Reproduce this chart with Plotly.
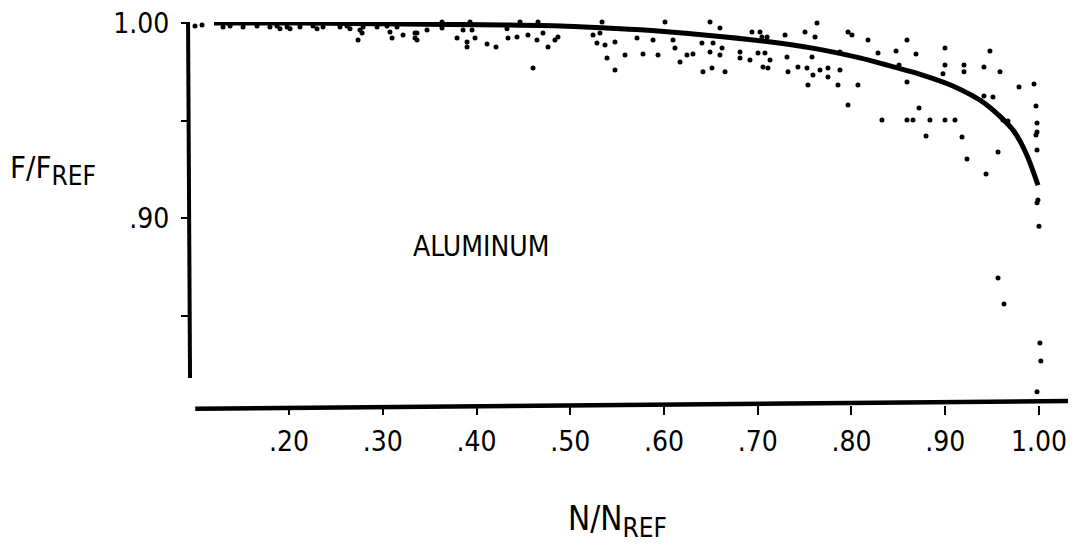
import plotly.graph_objects as go

# Fitted curve F/F_REF vs N/N_REF
curve_x = [0.12, 0.21, 0.32, 0.43, 0.49, 0.535, 0.575, 0.64, 0.71, 0.76, 0.81,
           0.834, 0.875, 0.907, 0.943, 0.973, 0.987, 0.999]
curve_y = [1.000, 1.000, 0.9995, 0.999, 0.9985, 0.9975, 0.9965, 0.994, 0.9905, 0.987, 0.982,
           0.979, 0.9735, 0.968, 0.9586, 0.9448, 0.9325, 0.917]

# Measured points
pts_x = [0.0997, 0.1072,
         0.1296, 0.1371, 0.151, 0.1659, 0.1797, 0.1872, 0.1979, 0.2117, 0.2256, 0.2363, 0.2544, 0.2619,
         0.279, 0.2939, 0.3045, 0.3152,
         0.1584, 0.2032, 0.2512, 0.2672, 0.2832, 0.2917, 0.3291,
         0.1904, 0.2011, 0.2299, 0.2651, 0.2757, 0.2736, 0.2779, 0.3077, 0.3099, 0.3216, 0.3365, 0.3365,
         0.3397, 0.3451, 0.3344, 0.3344, 0.3472, 0.3632, 0.3632, 0.3749, 0.3824, 0.3792, 0.3856, 0.3899,
         0.3899, 0.3931, 0.3952, 0.4005, 0.3984, 0.4112, 0.4219, 0.4208, 0.4325, 0.4325, 0.4336, 0.4432,
         0.4464, 0.4539, 0.4549, 0.4624, 0.4656, 0.4645, 0.4709, 0.4763, 0.4763, 0.4837, 0.4859, 0.4869,
         0.4997, 0.5051, 0.5104, 0.4603,
         0.5243, 0.5285, 0.5317, 0.5371, 0.5392, 0.5339, 0.5477, 0.5477, 0.5509, 0.5584, 0.5584, 0.5723,
         0.5712,
         0.6011, 0.6491, 0.6832, 0.7259, 0.7632, 0.7963, 0.8005,
         0.5883, 0.5776, 0.5936, 0.6096, 0.6117, 0.6171, 0.6245, 0.6309, 0.6405, 0.6416, 0.6491, 0.6512,
         0.6523, 0.6597, 0.6597, 0.6619, 0.6651, 0.6811, 0.6811, 0.6917, 0.6939, 0.7024, 0.7045, 0.7003,
         0.7077, 0.7099, 0.7056, 0.7109, 0.7131, 0.7291, 0.7312, 0.7323, 0.7429, 0.7504, 0.7525, 0.7579,
         0.7589, 0.7611, 0.7536, 0.7664, 0.7749, 0.7749, 0.7856, 0.7877, 0.7877, 0.7963, 0.8069,
         0.8176, 0.8592, 0.8283, 0.8475, 0.8688, 0.8507, 0.8592, 0.8997, 0.8997, 0.8976, 0.9200, 0.9200,
         0.9413, 0.9477, 0.9584, 0.8325, 0.8592, 0.8656, 0.8837, 0.8997, 0.9104, 0.8795, 0.8720, 0.9179,
         0.9232, 0.9413, 0.9509, 0.9616, 0.9669, 0.9563, 0.9435, 0.9787, 0.9947, 0.9968, 0.9979, 0.9979,
         0.9968, 0.9979, 0.9979,
         0.9989, 1.0, 0.9563, 0.9627, 1.001, 1.002, 0.9979]
pts_y = [0.9985, 0.999,
         0.998, 0.9985, 0.998, 0.9985, 0.998, 0.9985, 0.998, 0.998, 0.9985, 0.998, 0.998, 0.9985,
         0.998, 0.998, 0.9985, 0.998,
         1.0026, 1.0026, 1.0026, 1.0026, 1.0026, 1.0026, 1.0026,
         0.997, 0.997, 0.997, 0.997, 0.9964, 0.9913, 0.9949, 0.9954, 0.9923, 0.9939, 0.9949, 0.9913,
         1.0026, 1.0026, 0.9949, 0.9923, 0.9964, 1.0005, 0.9974, 1.003, 1.003, 0.9923, 0.9964, 0.9903,
         0.9877, 1.0005, 0.9964, 1.0015, 0.9923, 0.9893, 1.002, 0.9877, 1.003, 0.997, 0.9923, 0.9928,
         1.0005, 1.0026, 0.9939, 1.003, 1.0005, 0.9913, 0.9949, 1.0015, 0.9877, 0.9913, 1.0015, 0.9928,
         1.0015, 1.0046, 1.0015, 0.977,
         0.9939, 0.9898, 0.9949, 0.9887, 0.9821, 1.0005, 0.9903, 0.976, 1.0026, 1.001, 0.9836, 1.0015,
         0.9923,
         1.0005, 1.0005, 1.001, 1.0015, 1.0, 0.9954, 0.9939,
         0.9913, 0.9841, 0.9836, 0.9913, 0.9872, 0.980, 0.9836, 0.9841, 0.9898, 0.975, 0.9852, 0.977,
         0.9898, 0.9974, 0.9836, 0.9872, 0.975, 0.9852, 0.9821, 0.9811, 0.9954, 0.9954, 0.9928, 0.9847,
         0.9847, 0.9928, 0.9775, 0.977, 0.9811, 0.9939, 0.9826, 0.975, 0.9775, 0.9954, 0.977, 0.9826,
         0.9734, 0.9928, 0.9683, 0.976, 0.977, 0.9724, 0.9683, 0.976, 0.9852, 0.958, 0.9683,
         0.9913, 0.9913, 0.9847, 0.9857, 0.9841, 0.9785, 0.9698, 0.9872, 0.9785, 0.974, 0.9785, 0.975,
         0.9775, 0.9857, 0.975, 0.9504, 0.9504, 0.9504, 0.9504, 0.9504, 0.9504, 0.9422, 0.9565, 0.9417,
         0.9304, 0.9627, 0.9621, 0.9504, 0.9499, 0.934, 0.9228, 0.9673, 0.9688, 0.9575, 0.9488, 0.9442,
         0.9427, 0.935, 0.908,
         0.9095, 0.896, 0.8696, 0.8563, 0.8363, 0.8271, 0.8113]

x_ticks = [0.2, 0.3, 0.4, 0.5, 0.6, 0.7, 0.8, 0.9, 1.0]
x_ticktext = [".20", ".30", ".40", ".50", ".60", ".70", ".80", ".90", "1.00"]
y_ticks = [1.0, 0.95, 0.90, 0.85]
y_ticktext = ["1.00", "", ".90", ""]

FONT = "Liberation Sans Narrow, DejaVu Sans Condensed, Arial Narrow, sans-serif"

fig = go.Figure()
fig.add_trace(go.Scatter(x=pts_x, y=pts_y, mode="markers",
                         marker=dict(color="black", size=5), showlegend=False,
                         cliponaxis=False))
fig.add_trace(go.Scatter(x=curve_x, y=curve_y, mode="lines",
                         line=dict(color="black", width=5, shape="spline", smoothing=0.8),
                         showlegend=False))

# axis lines (scanned figure axes)
fig.add_shape(type="line", xref="x", yref="y", x0=0.0923, y0=1.0005, x1=0.0944, y1=0.8184,
              line=dict(color="black", width=4))
fig.add_shape(type="line", xref="x", yref="y", x0=0.100, y0=0.8026, x1=1.0395, y1=0.8066,
              line=dict(color="black", width=4.5))

# plot area on screen: x 180..1076, y 22..412 (page has 8px body margin)
fig.add_annotation(text="ALUMINUM", xref="paper", yref="paper", x=0.336, y=0.4256,
                   yanchor="middle", showarrow=False,
                   font=dict(family=FONT, size=28, color="black"))
fig.add_annotation(text="F/F<sub><span style='font-size:26px'>REF</span></sub>",
                   xref="paper", yref="paper", x=-0.192, y=0.6205,
                   xanchor="left", yanchor="middle", showarrow=False,
                   font=dict(family=FONT, size=31, color="black"))
fig.add_annotation(text="N/N<sub><span style='font-size:26px'>REF</span></sub>",
                   xref="paper", yref="paper", x=0.431, y=-0.280,
                   xanchor="left", yanchor="middle", showarrow=False,
                   font=dict(family=FONT, size=33, color="black"))

fig.update_layout(
    width=1076, height=550,
    margin=dict(l=172, r=8, t=14, b=146, autoexpand=False),
    paper_bgcolor="white", plot_bgcolor="white",
    font=dict(family=FONT, size=24, color="black"),
    xaxis=dict(range=[0.0837, 1.0395], tickvals=x_ticks, ticktext=x_ticktext,
               showgrid=False, zeroline=False, showline=False, automargin=False,
               ticks="outside", ticklen=9, tickwidth=1.5, tickcolor="black",
               anchor="free", position=0.018, ticklabelstandoff=2,
               ticklabeloverflow="allow",
               tickfont=dict(family=FONT, size=28)),
    yaxis=dict(range=[0.801, 1.0005], tickvals=y_ticks, ticktext=y_ticktext,
               showgrid=False, zeroline=False, showline=False, automargin=False,
               ticks="outside", ticklen=8, tickwidth=2, tickcolor="black",
               anchor="free", position=0.010, ticklabelstandoff=6,
               ticklabeloverflow="allow",
               tickfont=dict(family=FONT, size=28)),
)

fig.write_html("out.html")
